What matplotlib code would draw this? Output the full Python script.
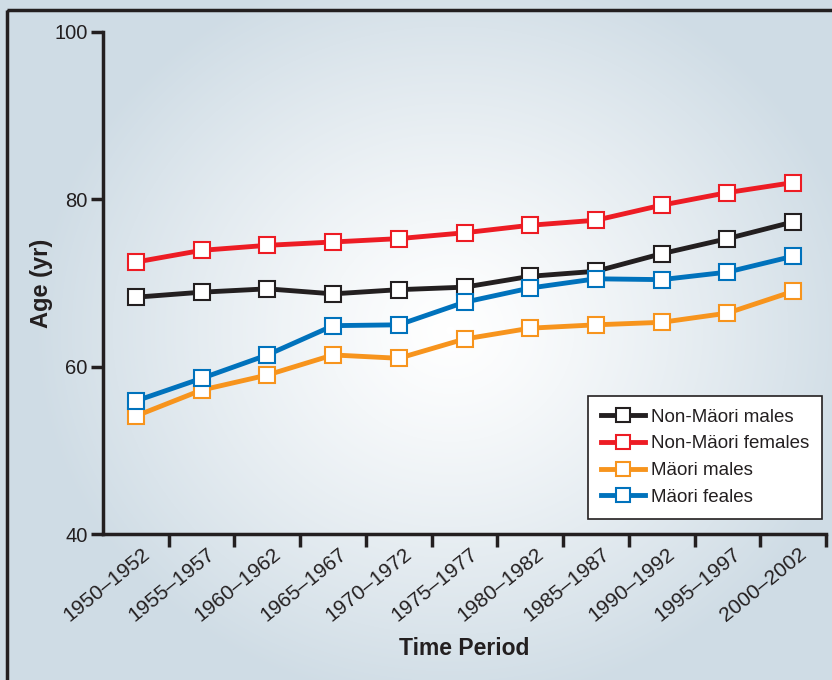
import numpy as np
import matplotlib.pyplot as plt
import matplotlib.transforms as mtransforms
from matplotlib.colors import LinearSegmentedColormap
from matplotlib.patches import Rectangle

periods = ['1950\u20131952', '1955\u20131957', '1960\u20131962', '1965\u20131967',
           '1970\u20131972', '1975\u20131977', '1980\u20131982', '1985\u20131987',
           '1990\u20131992', '1995\u20131997', '2000\u20132002']
non_maori_males = [68.3, 68.9, 69.3, 68.7, 69.2, 69.5, 70.8, 71.4, 73.5, 75.3, 77.3]
non_maori_females = [72.5, 73.9, 74.5, 74.9, 75.3, 76.0, 76.9, 77.5, 79.3, 80.8, 82.0]
maori_males = [54.1, 57.2, 59.0, 61.4, 61.0, 63.3, 64.6, 65.0, 65.3, 66.4, 69.0]
maori_females = [55.9, 58.6, 61.4, 64.9, 65.0, 67.7, 69.4, 70.5, 70.4, 71.3, 73.2]
labels = ['Non-M\u00e4ori males', 'Non-M\u00e4ori females', 'M\u00e4ori males', 'M\u00e4ori feales']
colors = ['#231f20', '#ed1c24', '#f7941d', '#0072bc']

plt.rcParams['font.family'] = ['Liberation Sans', 'DejaVu Sans']

fig = plt.figure(figsize=(8.32, 6.8), dpi=100)

# radial background + frame
bg = fig.add_axes([0, 0, 1, 1], zorder=-5)
yy, xx = np.mgrid[0:680, 0:832]
r = np.sqrt((xx - 450) ** 2 + ((yy - 330) / 0.9) ** 2)
g = np.clip(r / 420, 0, 1) ** 1.2
cmap = LinearSegmentedColormap.from_list('bg', ['#ffffff', '#cfdce5'])
bg.imshow(g, cmap=cmap, aspect='auto', extent=[0, 832, 680, 0])
bg.add_patch(Rectangle((7, 10), 840, 700, fill=False, ec='#231f20', lw=2.5))
bg.set_xlim(0, 832)
bg.set_ylim(680, 0)
bg.axis('off')

ax = fig.add_axes([0.1238, 0.2147, 0.8690, 0.7383])
ax.patch.set_alpha(0)
x = np.arange(len(periods))
for vals, lab, c in zip([non_maori_males, non_maori_females, maori_males, maori_females], labels, colors):
    ax.plot(x, vals, color=c, lw=3.5, marker='s', ms=11.5, mfc='white', mec=c, mew=1.5, label=lab)

ax.set_xlim(-0.5, 10.5)
ax.set_ylim(40, 100)
ax.set_yticks([40, 60, 80, 100])
ax.tick_params(axis='y', labelsize=14.5, width=2.5, length=9, color='#231f20', labelcolor='#231f20', pad=2)
ax.set_xticks(x + 0.5)
ax.set_xticklabels([])
ax.set_xticks(x, minor=True)
ax.set_xticklabels(periods, minor=True, rotation=39, ha='right', va='top',
                   rotation_mode='anchor', fontsize=15, color='#231f20')
ax.tick_params(axis='x', which='major', width=2.5, length=9, color='#231f20')
ax.tick_params(axis='x', which='minor', length=0, pad=7.5)
shift = mtransforms.ScaledTranslation(0.05, 0, fig.dpi_scale_trans)
for t in ax.get_xticklabels(minor=True):
    t.set_transform(t.get_transform() + shift)
for s in ['top', 'right']:
    ax.spines[s].set_visible(False)
for s in ['left', 'bottom']:
    ax.spines[s].set_linewidth(2.5)
    ax.spines[s].set_color('#231f20')

ax.set_ylabel('Age (yr)', fontsize=17, fontweight='bold', color='#231f20')
ax.yaxis.set_label_coords(-0.069, 0.5)
ax.set_xlabel('Time Period', fontsize=16.5, fontweight='bold', color='#231f20')
ax.xaxis.set_label_coords(0.5, -0.205)

leg = ax.legend(loc='lower right', bbox_to_anchor=(0.9945, 0.0299), borderaxespad=0,
                fontsize=13.5, frameon=True, fancybox=False, edgecolor='#231f20', framealpha=1,
                handlelength=2.35, handletextpad=0.3, borderpad=0.7, labelspacing=0.51,
                markerscale=0.85)
leg.get_frame().set_linewidth(1.2)
for t in leg.get_texts():
    t.set_color('#231f20')

fig.savefig('out.png', dpi=100)
